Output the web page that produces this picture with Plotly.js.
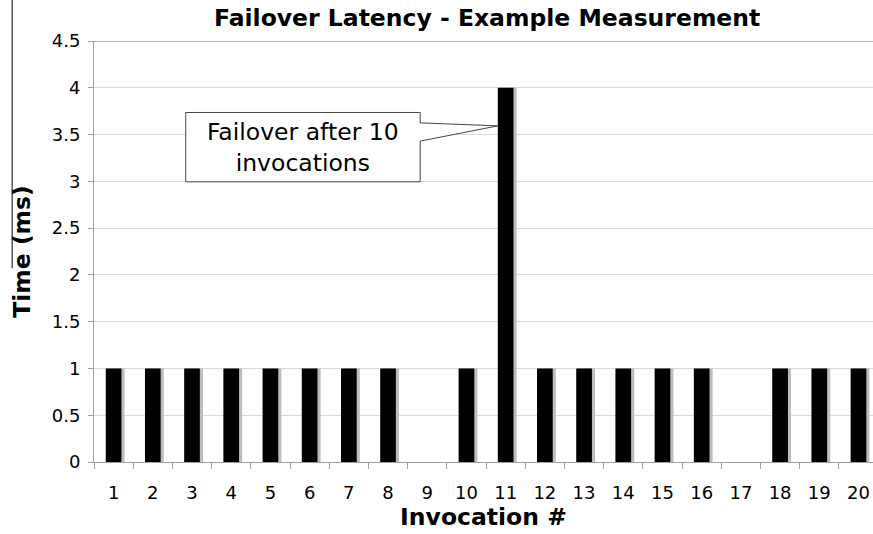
<!DOCTYPE html>
<html>
<head>
<meta charset="utf-8">
<script src="https://cdn.plot.ly/plotly-3.0.1.min.js"></script>
<style>html,body{margin:0;padding:0;background:#fff}#chart{width:873px;height:534px}</style>
</head>
<body>
<div id="chart"></div>
<script>
// Data
var invocations = [1,2,3,4,5,6,7,8,9,10,11,12,13,14,15,16,17,18,19,20];
var latencyMs   = [1,1,1,1,1,1,1,1,0,1,4,1,1,1,1,1,0,1,1,1];
var tickLabels  = ["1","2","3","4","5","6","7","8","9","10","11","12","13","14","15","16","17","18","19","20"];
var calloutText = "Failover after 10<br>invocations";
var failoverIndex = 11;

var FONT = "DejaVu Sans, Verdana, sans-serif";
var boundaries = [];
for (var i = 0; i <= invocations.length; i++) boundaries.push(invocations[0] - 0.5 + i);

var shadow = {
  type: 'bar', x: invocations, y: latencyMs, width: 0.4, offset: -0.12,
  marker: {color: '#bdbdbd'}, hoverinfo: 'skip', showlegend: false
};
var bars = {
  type: 'bar', x: invocations, y: latencyMs, width: 0.4, offset: -0.2,
  marker: {color: '#000000'}, showlegend: false
};

// callout geometry in data units (box + wedge pointing to failover bar)
var bx0 = 2.84, bx1 = 8.82, by0 = 2.995, by1 = 3.736;
var tipX = failoverIndex - 0.2, tipY = 3.593;
var calloutPath = 'M ' + bx0 + ',' + by1 + ' L ' + bx1 + ',' + by1 + ' L ' + bx1 + ',3.625 L ' +
  tipX + ',' + tipY + ' L ' + bx1 + ',3.43 L ' + bx1 + ',' + by0 + ' L ' + bx0 + ',' + by0 + ' Z';

var layout = {
  width: 873, height: 534,
  margin: {l: 94, r: 0, t: 41, b: 72, pad: 0},
  paper_bgcolor: '#ffffff', plot_bgcolor: '#ffffff',
  barmode: 'overlay',
  font: {family: FONT, color: '#000', size: 18},
  title: {text: '<b>Failover Latency - Example Measurement</b>', font: {family: FONT, size: 23.5, color: '#000'},
          x: 0.558, xanchor: 'center', y: 0.966, yanchor: 'middle'},
  xaxis: {
    range: [0.5, 20.37], tickvals: invocations, ticktext: tickLabels,
    ticks: '', showgrid: false, zeroline: false,
    showline: true, linecolor: '#a0a0a0', linewidth: 1,
    tickfont: {size: 18, family: FONT}, ticklabelstandoff: 14,
    minor: {tickvals: boundaries, ticks: 'outside', ticklen: 6, tickcolor: '#a0a0a0', showgrid: false},
    title: {text: '<b>Invocation #</b>', font: {size: 23.5, family: FONT}, standoff: 5}
  },
  yaxis: {
    range: [0, 4.5], tickvals: [0,0.5,1,1.5,2,2.5,3,3.5,4,4.5],
    ticktext: ['0','0.5','1','1.5','2','2.5','3','3.5','4','4.5'],
    ticks: 'outside', ticklen: 5, tickcolor: '#a0a0a0',
    showgrid: true, gridcolor: '#d9d9d9', gridwidth: 1, zeroline: false,
    showline: true, linecolor: '#a0a0a0', linewidth: 1,
    tickfont: {size: 18, family: FONT}, ticklabelstandoff: 4,
    title: {text: '<b>Time (ms)</b>', font: {size: 23.5, family: FONT}, standoff: 14}
  },
  shapes: [
    {type: 'line', xref: 'paper', yref: 'y', x0: 0, x1: 1, y0: 4.5, y1: 4.5, line: {color: '#999999', width: 1.5}},
    {type: 'line', xref: 'paper', yref: 'paper', x0: -0.105, x1: -0.105, y0: 0.46, y1: 1.1, line: {color: '#555', width: 1.5}},
    {type: 'path', xref: 'x', yref: 'y', path: calloutPath, fillcolor: '#ffffff', line: {color: '#444444', width: 1}, layer: 'above'}
  ],
  annotations: [
    {xref: 'x', yref: 'y', x: (bx0 + bx1) / 2, y: (by0 + by1) / 2, text: calloutText, showarrow: false,
     font: {family: FONT, size: 23.5, color: '#000'}, align: 'center', xanchor: 'center', yanchor: 'middle'}
  ]
};

Plotly.newPlot('chart', [shadow, bars], layout, {displayModeBar: false, staticPlot: true});
</script>
</body>
</html>
